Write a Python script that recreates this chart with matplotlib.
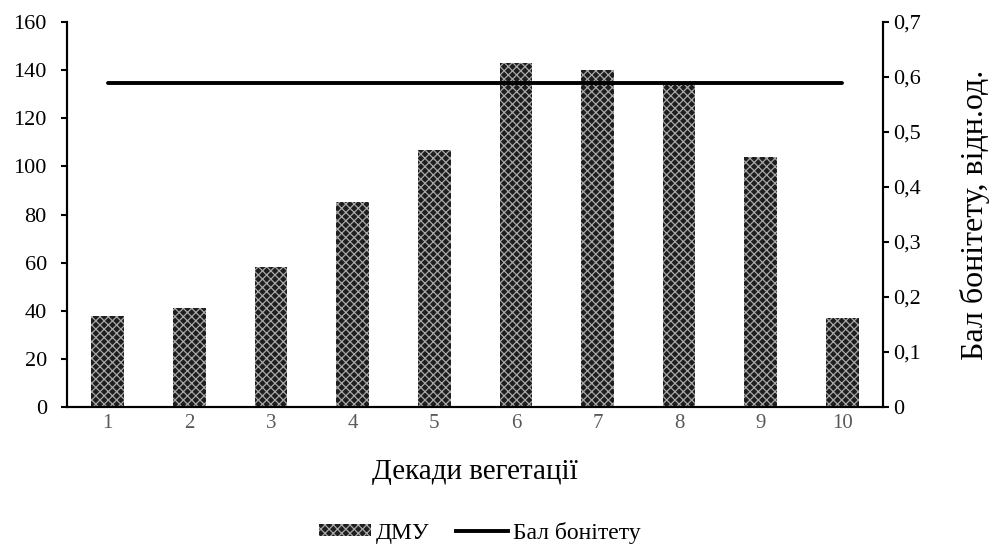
import matplotlib.pyplot as plt
import numpy as np
from matplotlib.lines import Line2D
from matplotlib.patches import Patch

plt.rcParams['font.family'] = ['Liberation Serif', 'DejaVu Serif']
plt.rcParams['hatch.linewidth'] = 0.9

decades = ['1', '2', '3', '4', '5', '6', '7', '8', '9', '10']
dmu = [38, 41, 58, 85, 107, 143, 140, 135, 104, 37]
bal = [0.59, 0.59, 0.59, 0.59, 0.59, 0.59, 0.59, 0.59, 0.59, 0.59]

x = np.arange(1, len(decades) + 1)

fig = plt.figure(figsize=(9.97, 5.52), dpi=100)
ax = fig.add_axes([0.0672, 0.2627, 0.8185, 0.6974])
ax2 = ax.twinx()

bar_face = '#1e1e1e'
bar_hatch = '#a8a8a8'
ax.bar(x, dmu, width=0.4, color=bar_face, edgecolor=bar_hatch,
       hatch='xxxx', linewidth=0, zorder=2)
ax2.plot(x, bal, color='black', lw=2.8, solid_capstyle='round', zorder=3)

ax.set_xlim(0.5, 10.5)
ax.set_ylim(0, 160)
ax.set_yticks(np.arange(0, 161, 20))
ax.set_xticks(x)
ax.set_xticklabels(decades)
ax2.set_ylim(0, 0.7)
ax2.set_yticks(np.arange(0, 0.71, 0.1))
ax2.set_yticklabels(['0'] + ['0,%d' % i for i in range(1, 8)])

for a in (ax, ax2):
    a.spines['top'].set_visible(False)
    for s in ('left', 'right', 'bottom'):
        a.spines[s].set_linewidth(1.5)
        a.spines[s].set_color('black')

ax.tick_params(axis='y', labelsize=16, length=4.5, width=1.5, pad=10)
ax.tick_params(axis='x', length=0, labelsize=15, labelcolor='#595959', pad=5)
ax2.tick_params(axis='y', labelsize=16, length=4.5, width=1.5, pad=3)

ax.set_xlabel('Декади вегетації', fontsize=21, labelpad=19)
ax2.set_ylabel('Бал бонітету, відн.од.', fontsize=23, labelpad=28)

handles = [Patch(facecolor=bar_face, edgecolor=bar_hatch, hatch='xxxx', linewidth=0),
           Line2D([0], [0], color='black', lw=2.8)]
fig.legend(handles, ['ДМУ', 'Бал бонітету'], loc='center',
           bbox_to_anchor=(0.481, 0.035), ncol=2, frameon=False, fontsize=17,
           handlelength=2.2, handleheight=0.4, handletextpad=0.2,
           columnspacing=1.15)

fig.savefig('out.png', dpi=100)
